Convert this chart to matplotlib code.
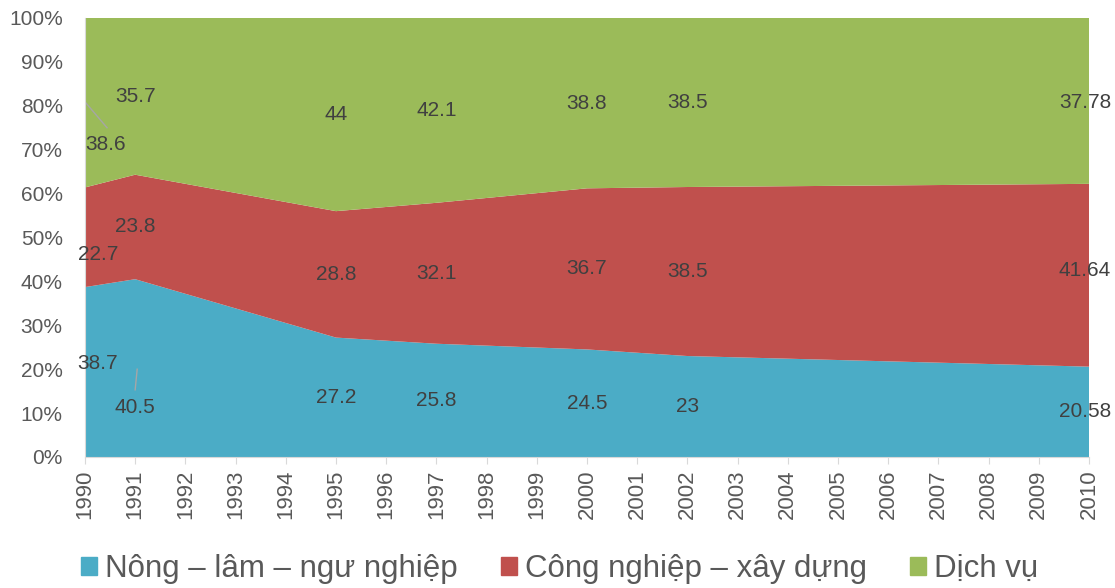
import matplotlib
matplotlib.use("Agg")
import matplotlib.pyplot as plt
from matplotlib.patches import Patch
import numpy as np

plt.rcParams['font.family'] = ['Liberation Sans', 'DejaVu Sans']

years = [1990, 1991, 1995, 1997, 2000, 2002, 2010]
nong_lam = [38.7, 40.5, 27.2, 25.8, 24.5, 23, 20.58]
cong_nghiep = [22.7, 23.8, 28.8, 32.1, 36.7, 38.5, 41.64]
dich_vu = [38.6, 35.7, 44, 42.1, 38.8, 38.5, 37.78]
series_names = ['Nông – lâm – ngư nghiệp', 'Công nghiệp – xây dựng', 'Dịch vụ']
all_years = list(range(1990, 2011))

colors = ['#4BACC6', '#C0504D', '#9BBB59']
TICK_GRAY = '#595959'
LABEL_DARK = '#404040'

# manual label nudges (dx in years, dy in percent), like the hand-moved labels in excel
label_nudge = {
    (0, 1990): (0.26, 1.9),
    (1, 1990): (0.26, -4.0),
    (2, 1990): (0.42, -9.6),
    (0, 1991): (0.0, -9.0),
    (0, 2010): (-0.08, 0.0),
    (1, 2010): (-0.08, 1.0),
    (2, 2010): (-0.08, -0.4),
}

fig = plt.figure(figsize=(11.15, 5.88), dpi=100)
ax = fig.add_axes([0.0762, 0.2228, 0.9005, 0.7466])

data = np.array([nong_lam, cong_nghiep, dich_vu])
totals = data.sum(axis=0)
pct = data / totals * 100
ax.stackplot(years, pct, colors=colors, linewidth=0)

ax.set_xlim(1990, 2010)
ax.set_ylim(0, 100)
ax.set_xticks(all_years)
ax.set_xticklabels([str(y) for y in all_years], rotation=90)
ax.set_yticks(range(0, 101, 10))
ax.set_yticklabels(['{}%'.format(v) for v in range(0, 101, 10)])
ax.tick_params(axis='both', labelcolor=TICK_GRAY, colors='#D9D9D9')
ax.tick_params(axis='x', length=5, pad=4, labelsize=16)
ax.tick_params(axis='y', length=0, pad=16, labelsize=15)
for s in ['top', 'right']:
    ax.spines[s].set_visible(False)
ax.spines['bottom'].set_color('#D9D9D9')
ax.spines['left'].set_color('#D9D9D9')

# data labels, centered in each band
bottoms = np.vstack([np.zeros(len(years)), np.cumsum(pct, axis=0)[:-1]])
for si in range(3):
    for j, yr in enumerate(years):
        dx, dy = label_nudge.get((si, yr), (0.0, 0.0))
        yc = bottoms[si, j] + pct[si, j] / 2 + dy
        ax.text(yr + dx, yc, '{:g}'.format(data[si, j]), ha='center', va='center',
                fontsize=15, color=LABEL_DARK, clip_on=False)

# leader lines for the moved labels
ax.plot([1990.0, 1990.44], [80.9, 75.0], color='#A6A6A6', lw=1)
ax.plot([1991.04, 1991.0], [20.0, 15.3], color='#A6A6A6', lw=1)

handles = [Patch(color=c) for c in colors]
fig.legend(handles, series_names, loc='center', bbox_to_anchor=(0.502, 0.032), ncol=3,
           frameon=False, fontsize=22.5, handlelength=0.5, handleheight=0.5,
           handletextpad=0.25, columnspacing=1.4, labelcolor=TICK_GRAY)

fig.savefig('out.png', dpi=100)
